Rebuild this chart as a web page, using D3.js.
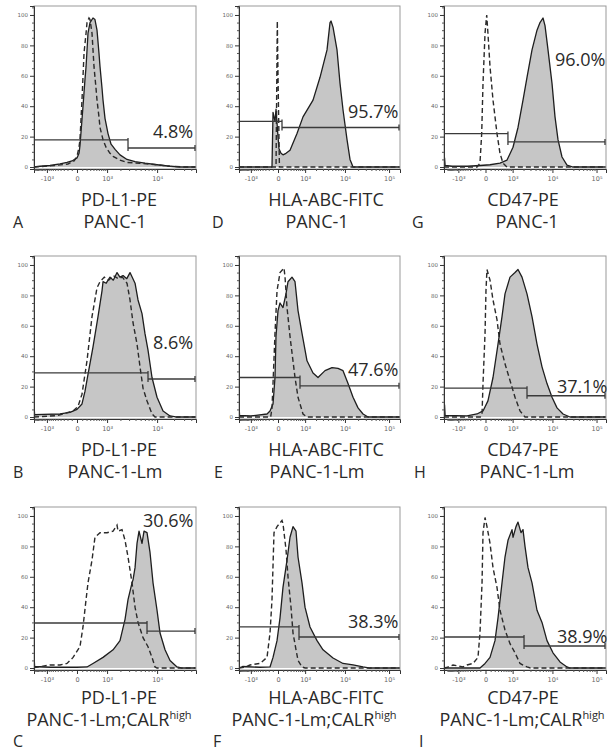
<!DOCTYPE html>
<html><head><meta charset="utf-8">
<script src="https://cdn.jsdelivr.net/npm/d3@7/dist/d3.min.js"></script>
<style>body{margin:0;background:#fff;} svg{display:block;}</style>
</head><body><svg id="c" width="607" height="752"></svg>
<script>
// ---------------- DATA ----------------
const panelLetters = ["A","B","C","D","E","F","G","H","I"];
const markerLabels = ["PD-L1-PE","PD-L1-PE","PD-L1-PE","HLA-ABC-FITC","HLA-ABC-FITC","HLA-ABC-FITC","CD47-PE","CD47-PE","CD47-PE"];
const cellLabels = ["PANC-1","PANC-1-Lm","PANC-1-Lm;CALR","PANC-1","PANC-1-Lm","PANC-1-Lm;CALR","PANC-1","PANC-1-Lm","PANC-1-Lm;CALR"];
const cellSup = ["","","high","","","high","","","high"];
const percentLabels = ["4.8%","8.6%","30.6%","95.7%","47.6%","38.3%","96.0%","37.1%","38.9%"];
const gateX = [2857,6843,6560,75,691,640,715,2457,2060];
const gateNegY = [17.8,29,29.6,30,26,27,22,19,20.4];
const gatePosY = [12.5,25,24.3,26,20.5,20.4,16.5,14,14.5];
const xTickValues = [-1000,0,1000,10000,100000];
const xTickLabels = ["-10³","0","10³","10⁴","10⁵"];
const yTickValues = [0,20,40,60,80,100];

const solidA = [[-1960,0],[-1453,0.5],[-835,1],[-418,2],[-212,3],[-95,4],[0,6],[36,9],[54,14],[73,22],[117,40],[163,58],[188,66],[238,88],[294,95],[385,98],[452,97],[527,90],[605,75],[649,66],[738,52],[786,44],[886,32],[1054,22],[1245,15],[1534,11.6],[1960,8],[2729,5],[3915,3.5],[6010,2.5],[9970,1.5],[16990,0.5],[25490,0],[48400,0]];
const dashedA = [[-1960,0],[-605,1],[-188,2],[-54,4],[0,7],[36,13],[54,18],[73,30],[95,44],[140,75],[188,88],[212,95],[265,98],[294,97],[354,88],[419,66],[489,52],[527,44],[605,33],[649,26],[786,18],[940,13],[1176,9],[1384,7],[1960,4.5],[2729,3],[4865,2.5],[9970,1.5],[16990,0.5],[31180,0],[48400,0]];
const solidB = [[-1960,0],[-1945,6],[-1900,1.5],[-1245,1.8],[-418,2],[-140,3],[0,5],[95,8.6],[163,17],[238,28],[385,46],[566,66],[738,83],[786,89],[950,88],[1176,92],[1400,90],[1693,95],[1950,92],[2268,93],[2700,91],[3128,95],[3915,88],[4460,77],[5300,68],[6010,55],[6843,44],[8094,26],[9970,13],[12770,4],[16990,0.7],[22570,0],[48400,0]];
const dashedB = [[-1960,0],[-500,1],[-73,4],[18,7],[95,15],[212,37],[354,66],[527,85],[649,89],[850,92],[1100,90],[1400,93],[1800,91],[2200,92],[2729,88],[3128,77],[3580,62],[4270,48],[4865,33],[5533,19],[6560,10.6],[8094,2],[9175,0],[48400,0]];
const solidC = [[-1960,0],[-1945,6],[-1900,1],[-800,0.5],[0,0.5],[212,0.7],[385,3],[786,7],[1384,12],[1960,18],[2490,32],[2857,45],[3424,56],[3580,58],[3915,66],[4270,82],[4660,90],[5300,82],[5777,90],[6560,89],[7446,76],[8443,56],[9970,38],[11290,23],[13860,12],[16990,5],[22570,0.7],[27640,0],[48400,0]];
const dashedC = [[-1960,0],[-1900,0.3],[-835,2],[-418,2],[-212,3],[-73,7],[54,14],[117,27],[188,45],[238,56],[354,71],[452,86],[649,89],[996,89],[1384,90],[1693,94],[1779,90],[2160,91],[2490,84],[2857,73],[3424,56],[3915,40],[4460,30],[5533,20],[6843,14],[8094,7],[9175,0.7],[9970,0],[48400,0]];
const solidD = [[-2120,0],[-119,0],[-96,36],[-55,30],[-35,38],[0,20],[17,12],[55,9],[96,8],[167,9],[281,11],[545,22],[862,33],[1665,44],[2531,59],[3773,77],[4460,95],[4710,96],[5260,92],[6537,77],[7690,55],[9030,37.5],[11170,18],[13090,5],[15350,0],[176000,0]];
const dashedD = [[-2120,0],[-35,0],[-12,96],[0,60],[25,0],[176000,0]];
const solidE = [[-2120,0],[-2100,6],[-2050,1],[-1000,0.7],[-250,2],[-167,4],[-96,8.6],[-55,26],[-36,53],[0,70],[36,75],[96,72],[167,81],[221,89],[347,92],[460,89],[592,70],[802,55],[1135,37],[1665,29],[2250,26],[3371,30.5],[4980,32.5],[6905,32],[9030,30.5],[11780,22],[15350,13],[19950,6],[25910,2],[33620,0],[176000,0]];
const dashedE = [[-2120,0],[-150,0],[-119,6],[-96,22],[-55,55],[-17,83],[36,95],[119,98],[143,92],[194,72],[281,53],[460,26],[592,13],[862,2],[1135,0],[176000,0]];
const solidF = [[-2120,0],[-1700,1],[-500,0.5],[-167,0.7],[-96,7],[-17,18],[36,33],[96,53],[194,71],[281,86],[383,93],[502,90],[592,73],[802,56],[991,40],[1379,27],[2122,18],[3011,12],[5260,6.6],[9030,3],[15350,2],[25910,0.7],[37300,0],[176000,0]];
const dashedF = [[-2120,0],[-1500,0.5],[-1061,2],[-502,3],[-250,7],[-167,23],[-119,45],[-75,89],[-17,93],[75,97],[96,95],[167,78],[221,60],[313,40],[383,23],[502,12],[592,5],[802,0.7],[1000,0],[176000,0]];
const solidG = [[-2457,0],[-2380,6],[-2300,1],[-1500,0.5],[-500,0.5],[-108,1],[86,1.5],[364,2.6],[666,4.6],[1026,13],[1423,26],[1938,44],[2457,59],[3277,77],[4336,90],[5117,95],[6025,98],[6717,93],[7895,77],[9776,55],[11470,33],[13440,18],[16590,6.6],[21550,1.3],[29490,0],[163000,0]];
const dashedG = [[-2457,0],[-180,0],[-108,2.6],[-71,22],[-45,55],[-8,88],[21,100],[44,88],[86,66],[155,44],[265,22],[364,9],[480,2.6],[666,0],[163000,0]];
const solidH = [[-2457,0],[-2380,8],[-2300,1],[-523,0.7],[-180,2],[-45,4],[44,10.6],[155,26],[297,48],[440,66],[568,81],[832,92],[1173,95],[1423,97],[1825,92],[2457,81],[3277,66],[4336,48],[5707,33],[7480,22],[9776,13],[12760,6],[17490,2],[25220,0],[163000,0]];
const dashedH = [[-2457,0],[-100,0],[-64,2],[-45,22],[-8,55],[8,83],[26,97],[86,90],[155,77],[265,64],[364,48],[568,35],[832,24],[1173,13],[1613,4],[2184,0],[163000,0]];
const solidI = [[-2457,0],[-108,0],[-8,3],[86,7],[207,18],[297,33],[440,56],[568,73],[718,84],[958,91],[1026,86],[1252,93],[1423,96],[1717,89],[1938,91],[2184,80],[2605,66],[3277,56],[4336,38],[5707,30],[7480,18],[10300,10],[14930,4],[21550,0.7],[25220,0],[163000,0]];
const dashedI = [[-2457,0],[-2000,0.5],[-1423,2],[-718,0.7],[-523,2],[-297,3],[-155,7],[-108,23],[-64,56],[-45,89],[-8,99],[26,93],[86,82],[155,66],[265,53],[364,38],[568,25],[832,16],[1173,10],[1613,3],[2457,0.7],[3000,0],[163000,0]];

const solidCurves = [solidA,solidB,solidC,solidD,solidE,solidF,solidG,solidH,solidI];
const dashedCurves = [dashedA,dashedB,dashedC,dashedD,dashedE,dashedF,dashedG,dashedH,dashedI];

// ---------------- LAYOUT ----------------
const colX = [[34,196],[239,400],[444,606]];
const rowTop = [6,256,507];
const frameH = 163;
const xDomain = [[-1960,48400],[-2120,176000],[-2457,163000]];
const xConst = [435,328,328];
const titleBase = [[206,228],[456,478],[704,726]];
const letterBase = [228,478,747];
const letterX = [[13,13,13],[212,214,213],[412,414,419]];
const title1X = [119,326,523];
const title2X = [[115,115,109],[317,317,314],[527,527,522]];
const pctPos = [[153,138],[153,349],[143,527],[348,118],[348,376],[348,628],[555,66],[557,393],[557,643]];
const FONT = "'Open Sans', 'DejaVu Sans', sans-serif";
const INK = "#2a2a2a";

// minor tick positions (axis decoration)
const minorX = [];
for (let v=-2000; v<=-100; v+=100) if (v!==-1000) minorX.push(v);
for (let v=100; v<1000; v+=100) minorX.push(v);
[1000,10000,100000].forEach(b=>{for(let k=2;k<10;k++) minorX.push(k*b);});
const minorY = d3.range(0,106,5).filter(v=>v%20!==0);

const svg = d3.select("#c");
const defs = svg.append("defs");

for (let i=0;i<9;i++){
  const c = Math.floor(i/3), r = i%3;
  const [x0,x1] = colX[c];
  const top = rowTop[r], bot = top+frameH;
  const x = d3.scaleSymlog().constant(xConst[c]).domain(xDomain[c]).range([x0,x1]);
  const y = d3.scaleLinear().domain([-1.3,105.9]).range([bot,top]);
  const g = svg.append("g");
  const cid = "clip"+i;
  defs.append("clipPath").attr("id",cid).append("rect")
    .attr("x",x0).attr("y",top).attr("width",x1-x0).attr("height",frameH);
  const plot = g.append("g").attr("clip-path",`url(#${cid})`);

  plot.append("path").datum(solidCurves[i])
    .attr("d", d3.area().x(d=>x(d[0])).y0(y(0)).y1(d=>y(d[1])))
    .attr("fill","#c6c6c6");
  plot.append("path").datum(solidCurves[i])
    .attr("d", d3.line().x(d=>x(d[0])).y(d=>y(d[1])))
    .attr("fill","none").attr("stroke","#1e1e1e").attr("stroke-width",1.3).attr("stroke-linejoin","round");
  plot.append("path").datum(dashedCurves[i])
    .attr("d", d3.line().x(d=>x(d[0])).y(d=>y(d[1])))
    .attr("fill","none").attr("stroke","#2a2a2a").attr("stroke-width",1.4).attr("stroke-dasharray","5,3");

  // frame
  g.append("rect").attr("x",x0).attr("y",top).attr("width",x1-x0).attr("height",frameH)
    .attr("fill","none").attr("stroke","#999").attr("stroke-width",1);

  // x axis
  const dom = xDomain[c];
  const xt = xTickValues.filter(v=>v>=dom[0]&&v<=dom[1]);
  const xa = g.append("g").attr("transform",`translate(0,${bot})`)
    .call(d3.axisBottom(x).tickValues(xt).tickSize(4).tickPadding(3)
      .tickFormat(v=>xTickLabels[xTickValues.indexOf(v)]));
  xa.select(".domain").attr("stroke","#333");
  xa.selectAll(".tick line").attr("stroke","#333");
  xa.selectAll("text").attr("font-size",6.5).attr("fill","#666").attr("font-family","'DejaVu Sans', sans-serif");
  const xm = g.append("g").attr("transform",`translate(0,${bot})`)
    .call(d3.axisBottom(x).tickValues(minorX.filter(v=>v>dom[0]&&v<dom[1])).tickSize(2).tickFormat(""));
  xm.select(".domain").remove();
  xm.selectAll(".tick line").attr("stroke","#555");

  // y axis
  const ya = g.append("g").attr("transform",`translate(${x0},0)`)
    .call(d3.axisLeft(y).tickValues(yTickValues).tickSize(4).tickPadding(2));
  ya.select(".domain").attr("stroke","#333");
  ya.selectAll(".tick line").attr("stroke","#333");
  ya.selectAll("text").attr("font-size",5.5).attr("fill","#666").attr("font-family","'DejaVu Sans', sans-serif");
  const ym = g.append("g").attr("transform",`translate(${x0},0)`)
    .call(d3.axisLeft(y).tickValues(minorY).tickSize(2).tickFormat(""));
  ym.select(".domain").remove();
  ym.selectAll(".tick line").attr("stroke","#555");

  // gates
  const gx = x(gateX[i]), yn = y(gateNegY[i]), yp = y(gatePosY[i]);
  const gs = g.append("g").attr("stroke","#3a3a3a").attr("stroke-width",1.3).attr("fill","none");
  gs.append("line").attr("x1",x0).attr("x2",gx).attr("y1",yn).attr("y2",yn);
  gs.append("line").attr("x1",gx).attr("x2",x1-1).attr("y1",yp).attr("y2",yp);
  gs.append("line").attr("x1",gx).attr("x2",gx).attr("y1",yn-2).attr("y2",yp+3);
  gs.append("line").attr("x1",x1-1).attr("x2",x1-1).attr("y1",yp-3).attr("y2",yp+3);

  // percent
  g.append("text").attr("x",pctPos[i][0]).attr("y",pctPos[i][1])
    .attr("font-family",FONT).attr("font-size",18).attr("fill",INK).text(percentLabels[i]);

  // titles
  g.append("text").attr("x",title1X[c]).attr("y",titleBase[r][0]).attr("text-anchor","middle")
    .attr("font-family",FONT).attr("font-size",18).attr("fill",INK).text(markerLabels[i]);
  const t2 = g.append("text").attr("x",title2X[c][r]).attr("y",titleBase[r][1]).attr("text-anchor","middle")
    .attr("font-family",FONT).attr("font-size",18).attr("fill",INK);
  t2.append("tspan").text(cellLabels[i]);
  if (cellSup[i]) t2.append("tspan").attr("font-size",11).attr("dy",-7).text(cellSup[i]);

  // letter
  g.append("text").attr("x",letterX[c][r]).attr("y",letterBase[r])
    .attr("font-family",FONT).attr("font-size",16).attr("fill",INK).text(panelLetters[i]);
}
</script></body></html>
